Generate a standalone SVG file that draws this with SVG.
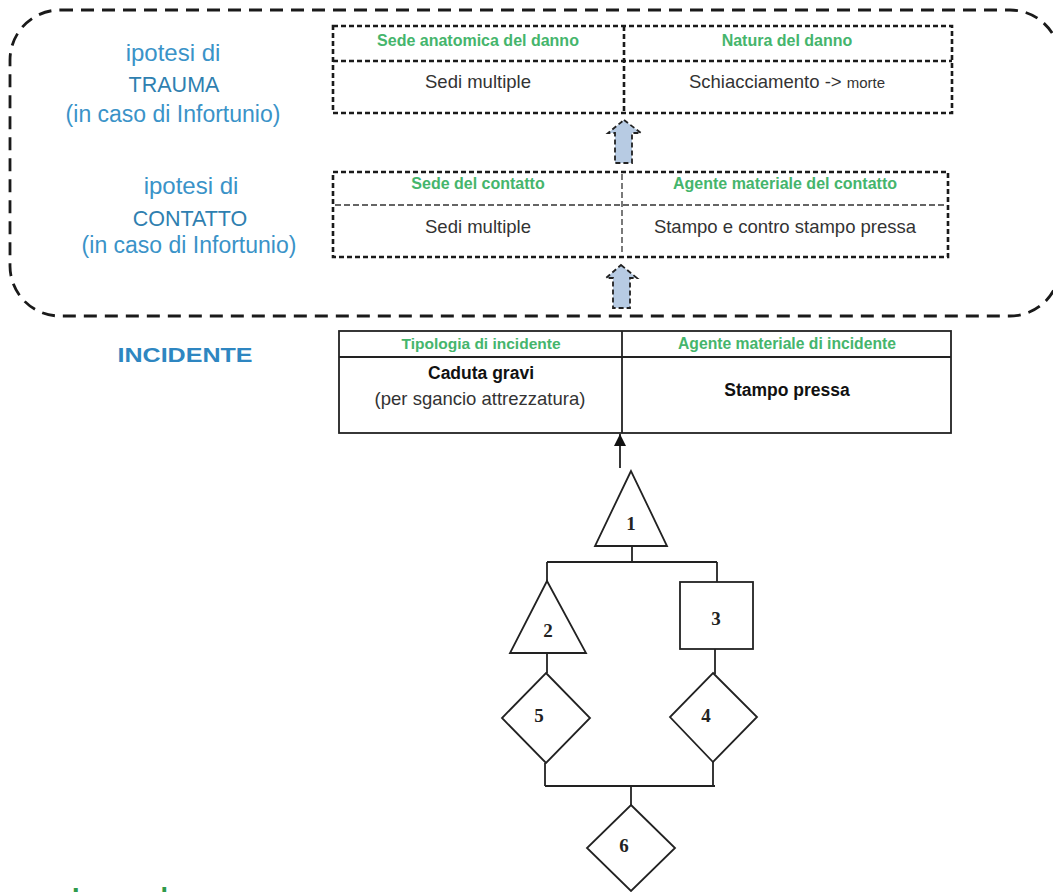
<svg xmlns="http://www.w3.org/2000/svg" width="1053" height="892" viewBox="0 0 1053 892">
<style>
  .lbl { font-family: "Liberation Sans", Arial, sans-serif; text-anchor: middle; }
  .blue { fill: #3a93c8; }
  .blue2 { fill: #2f7fb0; }
  .hdr { font-family: "Liberation Sans", Arial, sans-serif; font-weight: bold; font-size: 16px; fill: #45b56c; text-anchor: middle; }
  .cell { font-family: "Liberation Sans", Arial, sans-serif; font-size: 18.5px; fill: #333; text-anchor: middle; }
  .dot { fill: none; stroke: #1a1a1a; stroke-width: 2.6; stroke-dasharray: 5 3; }
  .dash { fill: none; stroke: #333; stroke-width: 1.3; stroke-dasharray: 6 3; }
  .solid { fill: #fff; stroke: #222; stroke-width: 1.8; }
  .shape { fill: #fff; stroke: #222; stroke-width: 1.8; }
  .num { font-family: "Liberation Serif", "Times New Roman", serif; font-weight: bold; font-size: 19px; fill: #222; text-anchor: middle; }
  .conn { fill: none; stroke: #222; stroke-width: 1.8; }
  .blk { fill: #b7cbe3; stroke: #222; stroke-width: 1.8; stroke-dasharray: 5 3; }
</style>
<defs>
  <marker id="ah" viewBox="0 0 12 12" refX="12" refY="6" markerWidth="12" markerHeight="12" markerUnits="userSpaceOnUse" orient="auto">
    <path d="M0,0 L12,6 L0,12 z" fill="#111"/>
  </marker>
</defs>
<rect width="1053" height="892" fill="#fff"/>

<!-- big dashed rounded frame -->
<g id="frame">
  <rect x="10" y="10" width="1050" height="306" rx="50" ry="50" fill="none" stroke="#1a1a1a" stroke-width="2.8" stroke-dasharray="13 8"/>
</g>

<!-- trauma label -->
<g id="label-trauma">
  <text class="lbl blue" x="173" y="61" font-size="24">ipotesi di</text>
  <text class="lbl blue2" x="174" y="92" font-size="21.5">TRAUMA</text>
  <text class="lbl blue" x="173" y="122" font-size="23">(in caso di Infortunio)</text>
</g>

<!-- trauma table -->
<g id="table-trauma">
  <rect x="333" y="26" width="619" height="87" class="dot"/>
  <line x1="333" y1="61" x2="952" y2="61" class="dot"/>
  <line x1="624" y1="26" x2="624" y2="113" class="dot"/>
  <text class="hdr" x="478" y="46">Sede anatomica del danno</text>
  <text class="hdr" x="787" y="46">Natura del danno</text>
  <text class="cell" x="478" y="88">Sedi multiple</text>
  <text class="cell" x="787" y="88">Schiacciamento -&gt; <tspan font-size="15">morte</tspan></text>
</g>

<!-- contact label -->
<g id="label-contatto">
  <text class="lbl blue" x="191" y="194" font-size="24">ipotesi di</text>
  <text class="lbl blue2" x="190" y="226" font-size="21.5">CONTATTO</text>
  <text class="lbl blue" x="189" y="253" font-size="23">(in caso di Infortunio)</text>
</g>

<!-- contact table -->
<g id="table-contatto">
  <rect x="333" y="172" width="615" height="85" class="dot"/>
  <line x1="335" y1="205" x2="946" y2="205" class="dash"/>
  <line x1="622" y1="174" x2="622" y2="255" class="dash"/>
  <text class="hdr" x="478" y="189">Sede del contatto</text>
  <text class="hdr" x="785" y="189">Agente materiale del contatto</text>
  <text class="cell" x="478" y="233">Sedi multiple</text>
  <text class="cell" x="785" y="233">Stampo e contro stampo pressa</text>
</g>

<!-- block arrows -->
<g id="block-arrow-1">
  <polygon class="blk" points="624,120 641,133 632,133 632,163 615,163 615,133 608,133"/>
</g>
<g id="block-arrow-2">
  <polygon class="blk" points="621,265 637,278 630,278 630,308 613,308 613,278 606,278"/>
</g>

<!-- incidente label -->
<g id="label-incidente">
  <text x="185" y="362" font-family="Liberation Sans, Arial, sans-serif" font-weight="bold" font-size="21" fill="#2e86c1" text-anchor="middle" textLength="135" lengthAdjust="spacingAndGlyphs">INCIDENTE</text>
</g>

<!-- incidente table -->
<g id="table-incidente">
  <rect x="339" y="331" width="612" height="102" class="solid"/>
  <line x1="339" y1="357" x2="951" y2="357" class="conn"/>
  <line x1="622" y1="331" x2="622" y2="433" class="conn"/>
  <text class="hdr" x="481" y="349" style="font-size:15.5px">Tipologia di incidente</text>
  <text class="hdr" x="787" y="349" style="font-size:15.7px">Agente materiale di incidente</text>
  <text class="cell" x="481" y="379" font-weight="bold" style="font-size:17.5px;fill:#111">Caduta gravi</text>
  <text class="cell" x="480" y="405">(per sgancio attrezzatura)</text>
  <text class="cell" x="787" y="396" font-weight="bold" style="font-size:17.5px;fill:#111">Stampo pressa</text>
</g>

<!-- fault tree nodes -->
<g id="node-1">
  <polygon class="shape" points="631,471 595,546 667,546"/>
  <text class="num" x="631" y="530">1</text>
</g>
<g id="node-2">
  <polygon class="shape" points="547,581 510,653 586,653"/>
  <text class="num" x="548" y="637">2</text>
</g>
<g id="node-3">
  <rect class="shape" x="680" y="582" width="73" height="67"/>
  <text class="num" x="716" y="625">3</text>
</g>
<g id="node-5">
  <polygon class="shape" points="546,673 590,718 546,763 502,718"/>
  <text class="num" x="539" y="722">5</text>
</g>
<g id="node-4">
  <polygon class="shape" points="713,673 757,717 713,762 670,717"/>
  <text class="num" x="706" y="722">4</text>
</g>
<g id="node-6">
  <polygon class="shape" points="631,805 675,848 631,891 587,848"/>
  <text class="num" x="624" y="852">6</text>
</g>

<!-- connectors -->
<g id="connectors">
  <path class="conn" d="M620,468 L620,434" marker-end="url(#ah)"/>
  <path class="conn" d="M632,546 L632,562"/>
  <path class="conn" d="M547,562 L717,562"/>
  <path class="conn" d="M547,562 L547,581"/>
  <path class="conn" d="M717,562 L717,582"/>
  <path class="conn" d="M547,653 L547,673"/>
  <path class="conn" d="M715,649 L715,674"/>
  <path class="conn" d="M545,763 L545,786"/>
  <path class="conn" d="M713,762 L713,786"/>
  <path class="conn" d="M545,786 L715,786"/>
  <path class="conn" d="M631,786 L631,805"/>
</g>

<!-- legend title (cut off at bottom edge, as in the reference) -->
<g id="legenda">
  <text x="72" y="907" font-family="Liberation Sans, Arial, sans-serif" font-weight="bold" font-size="27" fill="#2f9a4a">Legenda</text>
</g>
</svg>
